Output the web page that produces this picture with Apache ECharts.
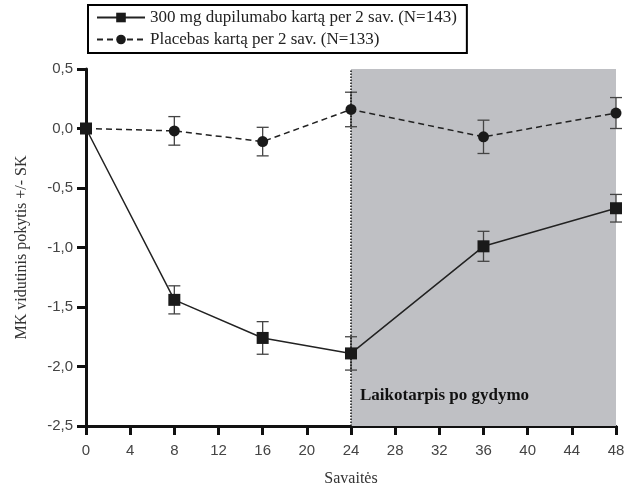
<!DOCTYPE html>
<html><head><meta charset="utf-8">
<script src="https://cdn.jsdelivr.net/npm/echarts@6/dist/echarts.min.js"></script>
<style>html,body{margin:0;padding:0;background:#fff}#c{width:626px;height:490px}</style>
</head><body><div id="c"></div>
<script>
const weeks = [0, 8, 16, 24, 36, 48];
const xTicks = [0,4,8,12,16,20,24,28,32,36,40,44,48];
const yTicks = [0.5,0,-0.5,-1.0,-1.5,-2.0,-2.5];
const dupiName = '300 mg dupilumabo kartą per 2 sav. (N=143)';
const placName = 'Placebas kartą per 2 sav. (N=133)';
const dupiMean = [0, -1.44, -1.76, -1.89, -0.99, -0.67];
const dupiSE   = [0, 0.118, 0.137, 0.14, 0.126, 0.116];
const placMean = [0, -0.02, -0.11, 0.16, -0.07, 0.13];
const placSE   = [0, 0.12, 0.12, 0.145, 0.14, 0.13];
const shadeFrom = 24, shadeTo = 48;
const shadeLabel = 'Laikotarpis po gydymo';

const chart = echarts.init(document.getElementById('c'));
function errData(m, s){ return weeks.map((w,i)=>[w, m[i]-s[i], m[i]+s[i]]).filter((d,i)=>s[i]>0); }
function errSeries(data){
  return {
    type:'custom', silent:true, z:3,
    data: data,
    renderItem: function(params, api){
      const x = api.value(0);
      const lo = api.coord([x, api.value(1)]);
      const hi = api.coord([x, api.value(2)]);
      const w = 6;
      const st = {stroke:'#444', lineWidth:1.3};
      return {type:'group', children:[
        {type:'line', shape:{x1:lo[0],y1:lo[1],x2:hi[0],y2:hi[1]}, style:st},
        {type:'line', shape:{x1:lo[0]-w,y1:lo[1],x2:lo[0]+w,y2:lo[1]}, style:st},
        {type:'line', shape:{x1:hi[0]-w,y1:hi[1],x2:hi[0]+w,y2:hi[1]}, style:st}
      ]};
    }
  };
}
const fmt = v => (Math.round(v*10)/10).toFixed(1).replace('.', ',');
chart.setOption({
  animation:false,
  grid:{left:86, right:10, top:69, bottom:64, outerBoundsMode:'none', containLabel:false},
  legend:{
    orient:'vertical', left:88, top:5, padding:[4,10,5,8], itemGap:5,
    borderColor:'#000', borderWidth:2, itemWidth:48, itemHeight:12,
    textStyle:{fontFamily:'Liberation Serif', fontSize:17, color:'#222'},
    data:[dupiName, placName]
  },
  xAxis:{
    type:'value', min:0, max:48, interval:4,
    name:'Savaitės', nameLocation:'middle', nameGap:45,
    nameTextStyle:{fontFamily:'Liberation Serif', fontSize:16, color:'#333'},
    axisLine:{onZero:false, lineStyle:{color:'#111', width:3}},
    axisTick:{length:9, lineStyle:{color:'#111', width:3}},
    axisLabel:{fontFamily:'Liberation Sans', fontSize:15, color:'#444', margin:17},
    splitLine:{show:false}
  },
  yAxis:{
    type:'value', min:-2.5, max:0.5, interval:0.5,
    name:'MK vidutinis pokytis +/- SK', nameLocation:'middle', nameGap:56,
    nameTextStyle:{fontFamily:'Liberation Serif', fontSize:16, color:'#333'},
    axisLine:{show:true, onZero:false, lineStyle:{color:'#111', width:3}},
    axisTick:{show:true, length:9, lineStyle:{color:'#111', width:3}},
    axisLabel:{fontFamily:'Liberation Sans', fontSize:15, color:'#444', margin:13, formatter:fmt},
    splitLine:{show:false}
  },
  series:[
    {
      type:'line', name:'shade', data:[], z:1, silent:true,
      markArea:{silent:true, itemStyle:{color:'#bfc0c4', opacity:1},
        label:{show:true, position:'insideBottomLeft', offset:[4,-17], formatter:shadeLabel,
          fontFamily:'Liberation Serif', fontWeight:'bold', fontSize:17, color:'#111'},
        data:[[{xAxis:shadeFrom},{xAxis:shadeTo}]]},
      markLine:{silent:true, symbol:'none', label:{show:false},
        lineStyle:{type:'dotted', color:'#111', width:1.5},
        data:[{xAxis:shadeFrom}]}
    },
    errSeries(errData(dupiMean, dupiSE)),
    errSeries(errData(placMean, placSE)),
    {
      type:'line', name:dupiName, z:5,
      data: weeks.map((w,i)=>[w, dupiMean[i]]),
      symbol:'rect', symbolSize:12,
      lineStyle:{color:'#222', width:1.5},
      itemStyle:{color:'#1a1a1a'}
    },
    {
      type:'line', name:placName, z:5,
      data: weeks.map((w,i)=>[w, placMean[i]]),
      symbol:'circle', symbolSize:11,
      lineStyle:{color:'#222', width:1.5, type:[6,4]},
      itemStyle:{color:'#1a1a1a'}
    }
  ]
});
</script></body></html>
